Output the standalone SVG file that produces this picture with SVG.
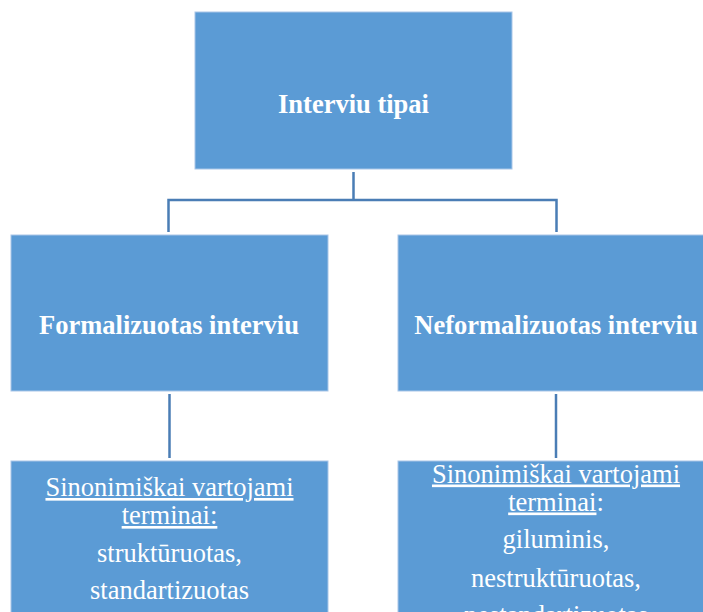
<svg xmlns="http://www.w3.org/2000/svg" width="703" height="612" viewBox="0 0 703 612">
<style>
.box{fill:#5B9BD5;stroke:#A9C6E8;stroke-width:1}
.conn{fill:none;stroke:#4A7DB5;stroke-width:2.5}
.t{font-family:"Liberation Serif","Times New Roman",serif;fill:#FFFFFF;text-anchor:middle;font-size:26.5px}
.b{font-weight:bold}
.u{text-decoration:underline}
</style>
<rect width="703" height="612" fill="#FFFFFF"/>
<g id="connectors">
<path class="conn" d="M353.5,172 V200 M168.5,232 V200 H556.5 V232"/>
<path class="conn" d="M169.5,394 V458"/>
<path class="conn" d="M556,394 V458"/>
</g>
<g id="n-top">
<rect class="box" x="195" y="12" width="317" height="157"/>
<text class="t b" x="353.5" y="112.5">Interviu tipai</text>
</g>
<g id="n-formal">
<rect class="box" x="11" y="235" width="317" height="156"/>
<text class="t b" x="169" y="334">Formalizuotas interviu</text>
</g>
<g id="n-neformal">
<rect class="box" x="398" y="235" width="317" height="156"/>
<text class="t b" x="556" y="334">Neformalizuotas interviu</text>
</g>
<g id="n-formal-terms">
<rect class="box" x="11" y="461" width="317" height="170"/>
<text class="t u" x="169.5" y="496">Sinonimiškai vartojami</text>
<text class="t u" x="169.5" y="524">terminai:</text>
<text class="t" x="169.5" y="561.5">struktūruotas,</text>
<text class="t" x="169.5" y="599">standartizuotas</text>
</g>
<g id="n-neformal-terms">
<rect class="box" x="398" y="461" width="317" height="170"/>
<text class="t u" x="556" y="482.5">Sinonimiškai vartojami</text>
<text class="t" x="556" y="510.5"><tspan class="u">terminai</tspan>:</text>
<text class="t" x="556" y="548">giluminis,</text>
<text class="t" x="556" y="586.5">nestruktūruotas,</text>
<text class="t" x="556" y="624">nestandartizuotas</text>
</g>
</svg>
